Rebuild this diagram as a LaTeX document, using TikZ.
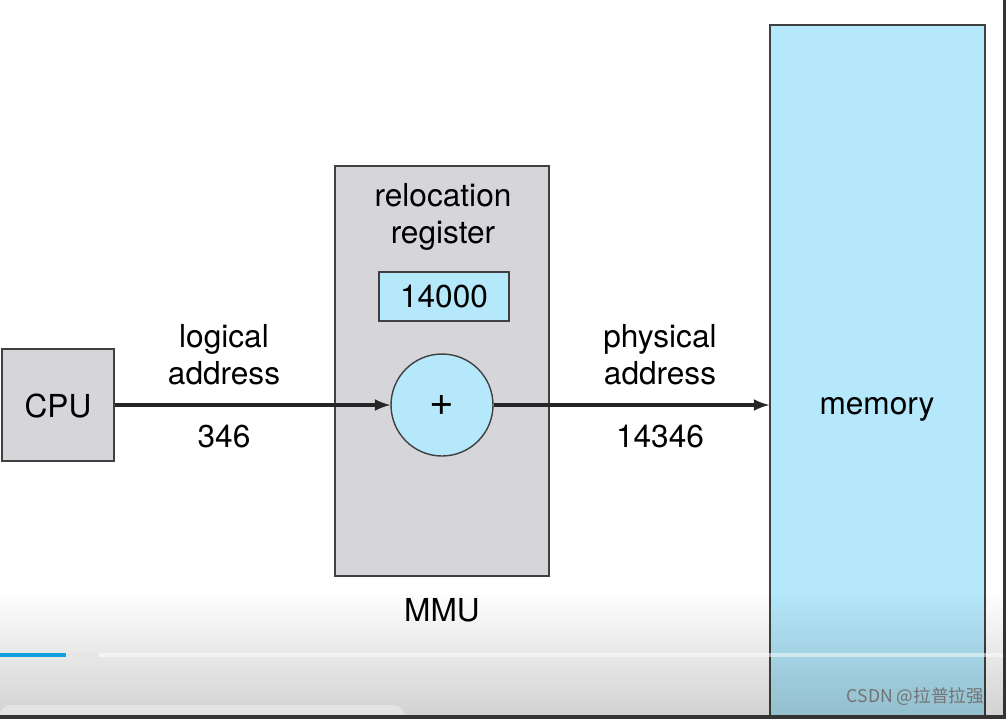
\documentclass[tikz,border=0pt]{standalone}
\usepackage{fontspec}
\setmainfont{TeX Gyre Heros}
\newfontfamily\cjkfont{Noto Sans CJK SC}
\usepackage{xcolor}
\usepackage{tikz}
\usetikzlibrary{calc}
\usetikzlibrary{arrows}
\usetikzlibrary{positioning}
\usetikzlibrary{fadings}
\definecolor{mmugray}{RGB}{214,213,218}
\definecolor{memblue}{RGB}{180,232,250}
\definecolor{barblue}{RGB}{14,160,220}
\tikzfading[name=fade up,top color=transparent!100,bottom color=transparent!0]
\begin{document}
\begin{tikzpicture}[x=0.02cm,y=-0.02cm,
		box/.style={draw=black!75,line width=0.8pt,inner sep=0pt},
		lbl/.style={align=center,font=\fontsize{18}{21}\selectfont},
		flow/.style={-latex,line width=2pt,black!85}]
		\useasboundingbox (0,0) rectangle (1006,718);
		\fill[white] (0,0) rectangle (1006,718);
		% boxes
		\node[box,fill=mmugray,minimum width=2.24cm,minimum height=2.24cm] (cpu) at (58,405) {};
		\node[box,fill=mmugray,minimum width=4.28cm,minimum height=8.2cm] (mmu) at (442,371) {};
		\node[box,fill=memblue,minimum width=4.3cm,minimum height=13.86cm] (mem) at (877.5,371.5) {};
		\node[box,fill=memblue,minimum width=2.6cm,minimum height=0.98cm,lbl] (reg) at (444,296.5) {14000};
		\node[box,fill=memblue,circle,minimum size=2.04cm,font=\fontsize{24}{24}\selectfont] (plus) at (442,405) {+};
		% texts
		\node[lbl] (cpulbl) at (58,406) {CPU};
		\node[lbl] (memlbl) at (877,409) {memory};
		\node[lbl] (reglbl) at (443,217) {relocation\\register};
		\node[lbl] (mmulbl) at (442,610) {MMU};
		\node[lbl] (logical) at (224,355) {logical\\address};
		\node[lbl] (lognum) at (224,437) {346};
		\node[lbl] (physical) at (660,355) {physical\\address};
		\node[lbl] (physnum) at (660,437) {14346};
		% arrows
		\draw[flow] (cpu.east) -- (plus.west);
		\draw[flow] (plus.east) -- (plus.east -| mem.west);
		% player overlay
		\fill[black,opacity=0.18,path fading=fade up] (0,590) rectangle (1006,718);
		\fill[white,opacity=0.35,rounded corners=6pt] (0,705) rectangle (404,722);
		\draw[white,opacity=0.5,line width=2pt] (0,655) -- (1003,655);
		\draw[black!10,line width=2.3pt] (66,655) -- (98,655);
		\draw[barblue,line width=2.3pt] (0,655) -- (66,655);
		\node[text=black!55,font=\cjkfont\fontsize{10}{12}\selectfont,anchor=east] (mark) at (990,697) {CSDN @拉普拉强};
		\draw[black!80,line width=2pt] (1005,0) -- (1005,717) -- (0,717);
	\end{tikzpicture}
\end{document}
